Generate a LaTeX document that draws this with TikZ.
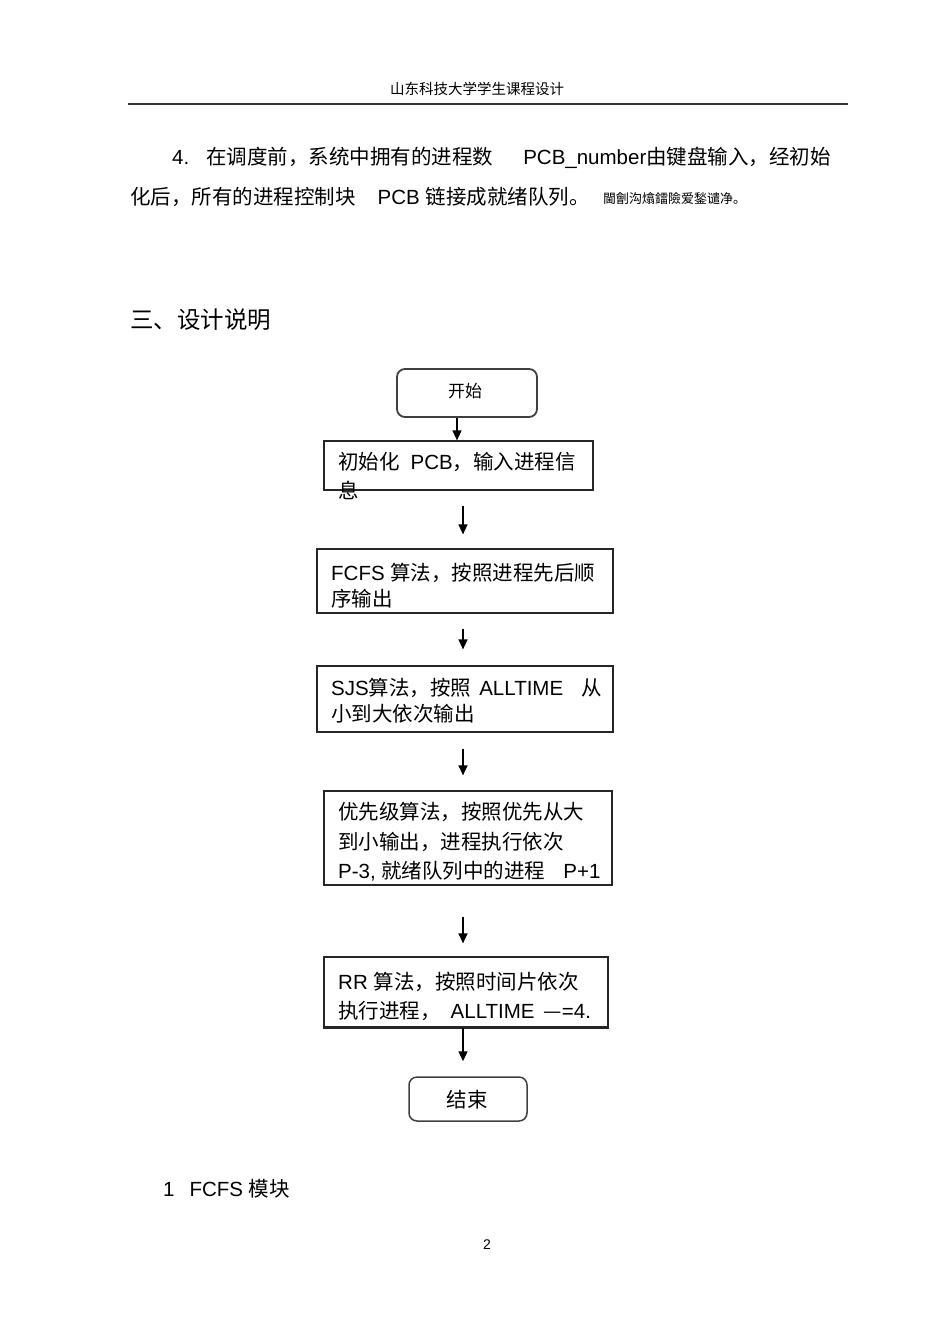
\documentclass[tikz,border=0pt]{standalone}
\usepackage{fontspec}
\setmainfont{Liberation Sans}
\newfontfamily\cjk{Noto Sans CJK SC}
\newcommand\zh[1]{{\cjk #1}}
\usetikzlibrary{arrows.meta}
\begin{document}
\begin{tikzpicture}[x=1pt,y=-1pt,
  tx/.style={inner sep=0pt,anchor=base west,font=\fontsize{20.5}{24}\selectfont},
  boxst/.style={draw=black!85,line width=1.2pt,inner sep=0pt},
  rboxst/.style={draw=black!75,line width=1.8pt,rounded corners=8pt,inner sep=0pt},
  arr/.style={line width=1.3pt,-{Triangle[length=10pt,width=9pt]}}]
\useasboundingbox (0,0) rectangle (950,1341);
% header
\node[tx,anchor=base,font=\fontsize{14.5}{16}\selectfont] (hdr) at (477,94) {\zh{山东科技大学学生课程设计}};
\draw[line width=1.6pt,black!80] (128,104) -- (848,104);
% paragraph
\node[tx,font=\fontsize{20.5}{24}\selectfont] (p1) at (172,164) {4.\hspace{17pt}\zh{在调度前，系统中拥有的进程数}\hspace{30pt}PCB\_number\zh{由键盘输入，经初始}};
\node[tx,font=\fontsize{20.5}{24}\selectfont] (p2) at (130,204) {\zh{化后，所有的进程控制块}\hspace{22pt}PCB \zh{链接成就绪队列。}};
\node[tx,font=\fontsize{13}{15}\selectfont] (p3) at (603,203) {\zh{閫劊沟熻鐳險爱鍫谴净。}};
\node[tx,font=\fontsize{23.5}{26}\selectfont] (sec) at (130,328) {\zh{三、设计说明}};
% boxes
\node[rboxst,minimum width=140pt,minimum height=48pt] (start) at (467,393) {};
\node[tx,anchor=base,font=\fontsize{17}{20}\selectfont] (startt) at (465,397) {\zh{开始}};
\node[boxst,minimum width=269pt,minimum height=49pt] (b2) at (458.5,465.5) {};
\node[tx] (b2a) at (338,469.5) {\zh{初始化}\hspace{11pt}PCB\zh{，输入进程信}};
\node[tx] (b2b) at (338,498.5) {\zh{息}};
\node[boxst,minimum width=296pt,minimum height=64pt] (b3) at (465,581) {};
\node[tx] (b3a) at (331,580.5) {FCFS \zh{算法，按照进程先后顺}};
\node[tx] (b3b) at (331,606.5) {\zh{序输出}};
\node[boxst,minimum width=296pt,minimum height=66pt] (b4) at (465,699) {};
\node[tx] (b4a) at (331,695.5) {SJS\zh{算法，按照}\hspace{8pt}ALLTIME\hspace{18pt}\zh{从}};
\node[tx] (b4b) at (331,721.5) {\zh{小到大依次输出}};
\node[boxst,minimum width=288pt,minimum height=94pt] (b5) at (468,838) {};
\node[tx] (b5a) at (338,819.5) {\zh{优先级算法，按照优先从大}};
\node[tx] (b5b) at (338,849.5) {\zh{到小输出，进程执行依次}};
\node[tx] (b5c) at (338,878.5) {P-3, \zh{就绪队列中的进程}\hspace{18pt}P+1};
\node[boxst,minimum width=284pt,minimum height=70pt] (b6) at (466,992) {};
\draw[line width=2.4pt,black!85] (b6.south west) -- (b6.south east);
\node[tx] (b6a) at (338,989.5) {RR \zh{算法，按照时间片依次}};
\node[tx] (b6b) at (338,1018.5) {\zh{执行进程，}\hspace{10pt}ALLTIME\hspace{9pt}\zh{—}=4.};
\node[rboxst,line width=1.5pt,minimum width=118pt,minimum height=44pt] (end) at (468,1099) {};
\node[tx,anchor=base] (endt) at (467,1107) {\zh{结束}};
% arrows
\coordinate (xa) at (457,0);
\coordinate (xb) at (463,0);
\draw[arr] (start.south -| xa) -- (b2.north -| xa);
\draw[arr,shorten <=15pt,shorten >=14pt] (b2.south -| xb) -- (b3.north -| xb);
\draw[arr,shorten <=15pt,shorten >=16pt] (b3.south -| xb) -- (b4.north -| xb);
\draw[arr,shorten <=16pt,shorten >=15pt] (b4.south -| xb) -- (b5.north -| xb);
\draw[arr,shorten <=31pt,shorten >=13pt] (b5.south -| xb) -- (b6.north -| xb);
\draw[arr,shorten >=15pt] (b6.south -| xb) -- (end.north -| xb);
% footer
\node[tx] (mod) at (163,1196.5) {1\hspace{15pt}FCFS \zh{模块}};
\node[tx,anchor=base,font=\fontsize{14}{16}\selectfont] (pg) at (487,1249) {2};
\end{tikzpicture}
\end{document}
